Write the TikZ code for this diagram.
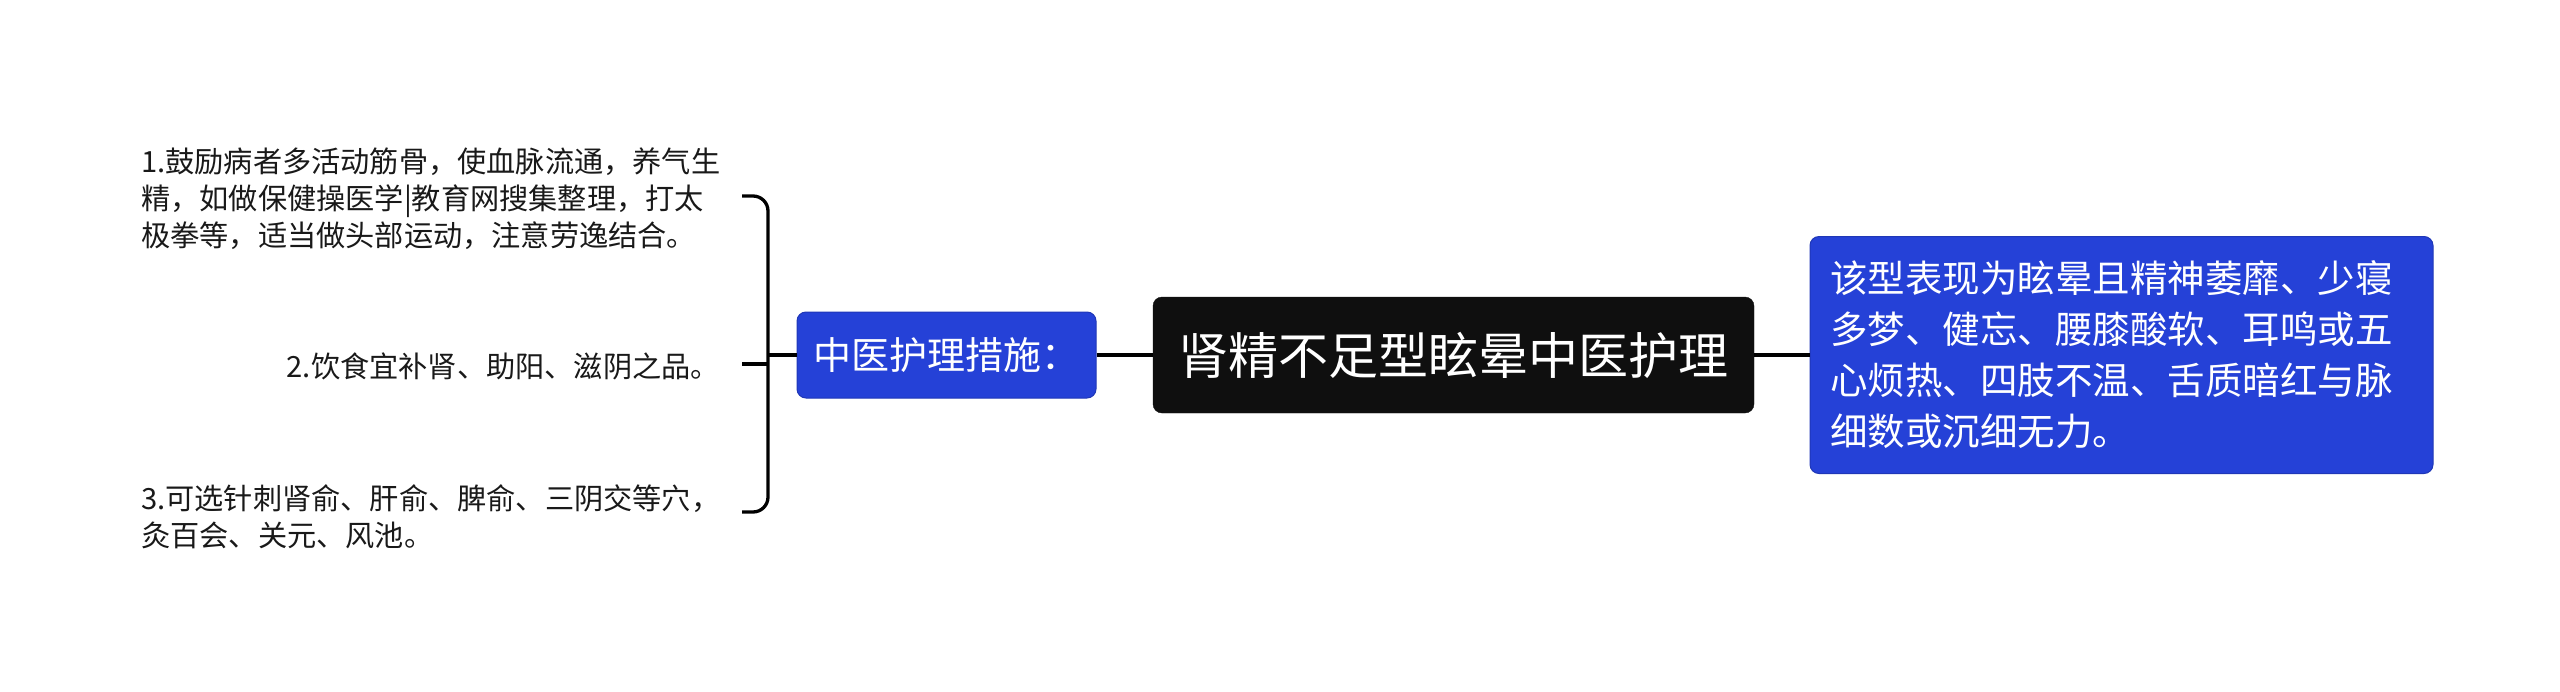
\documentclass[tikz,border=0pt]{standalone}
\usepackage{fontspec}
\setmainfont{Noto Sans CJK SC}
\definecolor{nodeblue}{HTML}{2541D7}
\definecolor{nodeblack}{HTML}{0F0F0F}
\begin{document}
\begin{tikzpicture}[x=1pt,y=-1pt,
  conn/.style={line width=3.3pt, black},
  rootbox/.style={rectangle, rounded corners=9pt, fill=nodeblack, draw=nodeblack, text=white,
    font=\fontsize{50}{60}\selectfont, minimum width=601pt, minimum height=116pt, inner sep=0pt},
  bluebox/.style={rectangle, rounded corners=9pt, fill=nodeblue, draw=nodeblue!85!black,
    line width=1pt, text=white, inner sep=0pt},
  leaf/.style={font=\fontsize{29.2}{37}\selectfont, inner sep=0pt, text=black!90}
]
\useasboundingbox (0,0) rectangle (2560,691);

\node[rootbox] (root) at (1453.5,355) {肾精不足型眩晕中医护理};
\node[bluebox, font=\fontsize{38}{46}\selectfont, minimum width=299pt, minimum height=86pt] (mid) at (946.5,355) {中医护理措施：};
\node[bluebox, font=\fontsize{37.5}{51}\selectfont, minimum width=623pt, minimum height=237pt,
  text width=583pt, align=left] (desc) at (2121.5,355)
  {该型表现为眩晕且精神萎靡、少寝\\多梦、健忘、腰膝酸软、耳鸣或五\\心烦热、四肢不温、舌质暗红与脉\\细数或沉细无力。};

\node[leaf, anchor=west, align=left] (t1) at (141,199)
  {1.鼓励病者多活动筋骨，使血脉流通，养气生\\精，如做保健操医学|教育网搜集整理，打太\\极拳等，适当做头部运动，注意劳逸结合。};
\node[leaf, anchor=east] (t2) at (720,366) {2.饮食宜补肾、助阳、滋阴之品。};
\node[leaf, anchor=west, align=left] (t3) at (141,516.5)
  {3.可选针刺肾俞、肝俞、脾俞、三阴交等穴，\\灸百会、关元、风池。};

\coordinate (bt) at (742,196);
\coordinate (bb) at (742,512);
\coordinate (bm) at (742,364);
\coordinate (bv) at (768,355);

\draw[conn, rounded corners=15pt] (bt) -- (bt -| bv) -- (bb -| bv) -- (bb);
\draw[conn] (bm) -- (bm -| bv);
\draw[conn] (bv) -- (bv -| mid.west);
\draw[conn] (mid.east) -- (root.west);
\draw[conn] (root.east) -- (desc.west);
\end{tikzpicture}
\end{document}
